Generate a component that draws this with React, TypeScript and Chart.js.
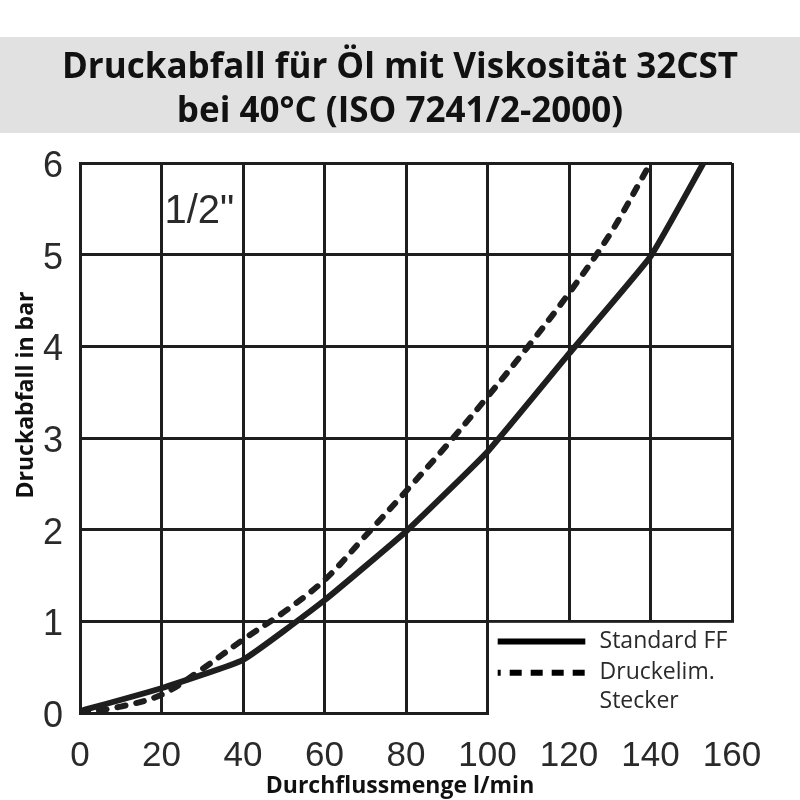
import React, { useEffect, useRef } from "react";
import { Chart, registerables } from "chart.js";

Chart.register(...registerables);

const titleLines = ["Druckabfall für Öl mit Viskosität 32CST", "bei 40°C (ISO 7241/2-2000)"];
const xAxisTitle = "Durchflussmenge l/min";
const yAxisTitle = "Druckabfall in bar";
const sizeLabel = '1/2"';

const standardLabel = "Standard FF";
const standardX = [0, 20, 40, 60, 80, 100, 120, 140, 153];
const standardY = [0.02, 0.27, 0.58, 1.23, 1.98, 2.85, 3.92, 4.98, 6.0];

const druckLabel = ["Druckelim.", "Stecker"];
const druckX = [0, 10, 20, 30, 40, 50, 60, 70, 80, 90, 100, 110, 120, 130, 139];
const druckY = [0, 0.07, 0.2, 0.48, 0.8, 1.1, 1.45, 1.93, 2.42, 2.92, 3.45, 4.0, 4.58, 5.22, 5.92];

const xTicks = [0, 20, 40, 60, 80, 100, 120, 140, 160];
const yTicks = [0, 1, 2, 3, 4, 5, 6];

const INK = "#1e1e1e";
const TEXT = "#2a2a2a";

const decorPlugin = {
  id: "decor",
  beforeDraw(chart: any) {
    const ctx = chart.ctx;
    ctx.save();
    ctx.fillStyle = "#ffffff";
    ctx.fillRect(0, 0, chart.width, chart.height);
    ctx.fillStyle = "#e1e1e1";
    ctx.fillRect(0, 37, chart.width, 96);
    ctx.fillStyle = "#111111";
    ctx.font = "bold 35px 'Open Sans'";
    ctx.textAlign = "center";
    ctx.textBaseline = "alphabetic";
    ctx.fillText(titleLines[0], chart.width / 2, 78);
    ctx.fillText(titleLines[1], chart.width / 2, 122);
    ctx.restore();
  },
  beforeDatasetsDraw(chart: any) {
    const { ctx, scales } = chart;
    const xs = scales.x;
    const ys = scales.y;
    const x1 = xs.getPixelForValue(100) + 1.5;
    const y1 = ys.getPixelForValue(1) + 1.5;
    const x2 = xs.getPixelForValue(160) + 3;
    const y2 = ys.getPixelForValue(0) + 3;
    ctx.save();
    ctx.fillStyle = "#ffffff";
    ctx.fillRect(x1, y1, x2 - x1, y2 - y1);
    ctx.restore();
  },
  afterDraw(chart: any) {
    const { ctx, scales } = chart;
    const xs = scales.x;
    const ys = scales.y;
    ctx.save();
    // axis titles
    ctx.fillStyle = "#111111";
    ctx.font = "bold 23px 'Open Sans'";
    ctx.textAlign = "center";
    ctx.textBaseline = "alphabetic";
    ctx.fillText(xAxisTitle, 400, 793);
    ctx.save();
    ctx.translate(33, 395);
    ctx.rotate(-Math.PI / 2);
    ctx.fillText(yAxisTitle, 0, 0);
    ctx.restore();

    // size label
    ctx.fillStyle = TEXT;
    ctx.font = "40px 'Liberation Sans'";
    ctx.textAlign = "left";
    ctx.textBaseline = "middle";
    ctx.fillText(sizeLabel, xs.getPixelForValue(20) + 3, ys.getPixelForValue(5.47));

    // legend
    const lx1 = xs.getPixelForValue(102.5);
    const lx2 = xs.getPixelForValue(124);
    const tx = xs.getPixelForValue(127.5);
    const yA = ys.getPixelForValue(0.78);
    const yB = ys.getPixelForValue(0.44);
    const yC = ys.getPixelForValue(0.13);
    ctx.strokeStyle = "#000";
    ctx.lineWidth = 6;
    ctx.lineCap = "butt";
    ctx.beginPath();
    ctx.moveTo(lx1, yA);
    ctx.lineTo(lx2, yA);
    ctx.stroke();
    ctx.setLineDash([12, 9]);
    ctx.lineDashOffset = 9;
    ctx.beginPath();
    ctx.moveTo(lx1, yB);
    ctx.lineTo(lx2, yB);
    ctx.stroke();
    ctx.setLineDash([]);
    ctx.fillStyle = TEXT;
    ctx.font = "23px 'Open Sans'";
    ctx.textAlign = "left";
    ctx.textBaseline = "middle";
    ctx.fillText(standardLabel, tx, yA);
    ctx.fillText(druckLabel[0], tx, yB);
    ctx.fillText(druckLabel[1], tx, yC);
    ctx.restore();
  },
};

export default function App() {
  const ref = useRef<HTMLCanvasElement | null>(null);
  useEffect(() => {
    if (!ref.current) return;
    const chart = new Chart(ref.current, {
      type: "line",
      data: {
        datasets: [
          {
            label: standardLabel,
            data: standardX.map((x, i) => ({ x, y: standardY[i] })),
            borderColor: INK,
            borderWidth: 6,
            pointRadius: 0,
            tension: 0.12,
            fill: false,
          },
          {
            label: druckLabel.join(" "),
            data: druckX.map((x, i) => ({ x, y: druckY[i] })),
            borderColor: INK,
            borderWidth: 6,
            borderDash: [8, 11],
            borderCapStyle: "round",
            pointRadius: 0,
            tension: 0.35,
            fill: false,
          },
        ],
      },
      options: {
        animation: false,
        responsive: true,
        maintainAspectRatio: false,
        layout: { padding: { top: 163, right: 68, bottom: 0, left: 0 } },
        plugins: {
          legend: { display: false },
          tooltip: { enabled: false },
          title: { display: false },
        },
        scales: {
          x: {
            type: "linear",
            min: 0,
            max: 160,
            afterFit(scale: any) {
              scale.height = 87;
            },
            afterBuildTicks(scale: any) {
              scale.ticks = xTicks.map((v) => ({ value: v }));
            },
            grid: { color: INK, lineWidth: 3, drawTicks: false },
            border: { color: INK, width: 3 },
            ticks: {
              color: TEXT,
              padding: 22,
              font: { family: "'Liberation Sans'", size: 35 },
              maxRotation: 0,
            },
            title: { display: false },
          },
          y: {
            type: "linear",
            min: 0,
            max: 6,
            afterFit(scale: any) {
              scale.width = 80;
            },
            afterBuildTicks(scale: any) {
              scale.ticks = yTicks.map((v) => ({ value: v }));
            },
            grid: { color: INK, lineWidth: 3, drawTicks: false },
            border: { color: INK, width: 3 },
            ticks: {
              color: TEXT,
              padding: 17,
              font: { family: "'Liberation Sans'", size: 36, lineHeight: "8px" },
              callback: (v: any) => ["", String(v)],
            },
            title: { display: false },
          },
        },
      },
      plugins: [decorPlugin],
    });
    return () => chart.destroy();
  }, []);
  return (
    <div style={{ position: "absolute", left: 0, top: 0, width: 800, height: 800, background: "#fff" }}>
      <canvas ref={ref} aria-label={titleLines.join(" ")} />
    </div>
  );
}
